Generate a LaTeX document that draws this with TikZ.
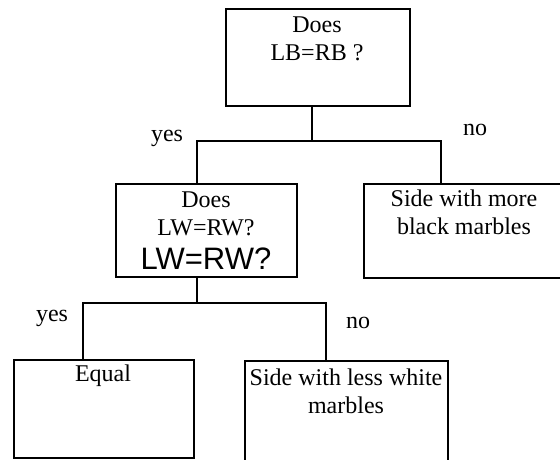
\documentclass[tikz,border=0pt]{standalone}
\usepackage{fontspec}
\setmainfont{Liberation Serif}
\newfontfamily\armfont{Liberation Sans}
\begin{document}
\begin{tikzpicture}[x=1pt,y=-1pt,
  box/.style={draw,line width=1.6pt,rectangle,inner sep=0pt,anchor=north west},
  txt/.style={font=\fontsize{24}{28}\selectfont,align=center,inner sep=0pt},
  lbl/.style={font=\fontsize{24}{28}\selectfont,inner sep=0pt},
  link/.style={line width=1.6pt}]
\useasboundingbox (0,0) rectangle (560,459);
\clip (0,0) rectangle (560,459);

% decision and outcome boxes
\node[box,minimum width=184pt,minimum height=97pt] (top) at (225,8) {};
\node[box,minimum width=181pt,minimum height=93pt] (q2) at (115,183) {};
\node[box,minimum width=202pt,minimum height=94pt] (rb) at (363,183) {};
\node[box,minimum width=180pt,minimum height=98pt] (eq) at (13,359) {};
\node[box,minimum width=203pt,minimum height=120pt] (lw) at (244,360) {};

% box texts
\node[txt] (tTop) at (317,39) {Does\\LB=RB ?};
\node[txt] (tQ2) at (206,214) {Does\\LW=RW?};
\node[inner sep=0pt,font=\armfont\fontsize{31}{34}\selectfont] (tQ2b) at (206,259) {LW=RW?};
\node[txt] (tRb) at (464,212) {Side with more\\black marbles};
\node[txt] (tEq) at (103,376) {Equal};
\node[txt] (tLw) at (346,391) {Side with less white\\marbles};

% branch labels
\node[lbl] (y1) at (167,138) {yes};
\node[lbl] (n1) at (475,130) {no};
\node[lbl] (y2) at (52,318) {yes};
\node[lbl] (n2) at (358,323) {no};

% branch junctions
\coordinate (j1) at (312,141);
\coordinate (j1L) at (197,141);
\coordinate (j1R) at (441,141);
\coordinate (j2) at (197,303);
\coordinate (j2L) at (83,303);
\coordinate (j2R) at (326,303);

% connectors
\draw[link] (top.south -| j1) -- (j1);
\draw[link] (j1L |- q2.north) -- (j1L) -- (j1R) -- (j1R |- rb.north);
\draw[link] (q2.south -| j2) -- (j2);
\draw[link] (j2L |- eq.north) -- (j2L) -- (j2R) -- (j2R |- lw.north);
\end{tikzpicture}
\end{document}
